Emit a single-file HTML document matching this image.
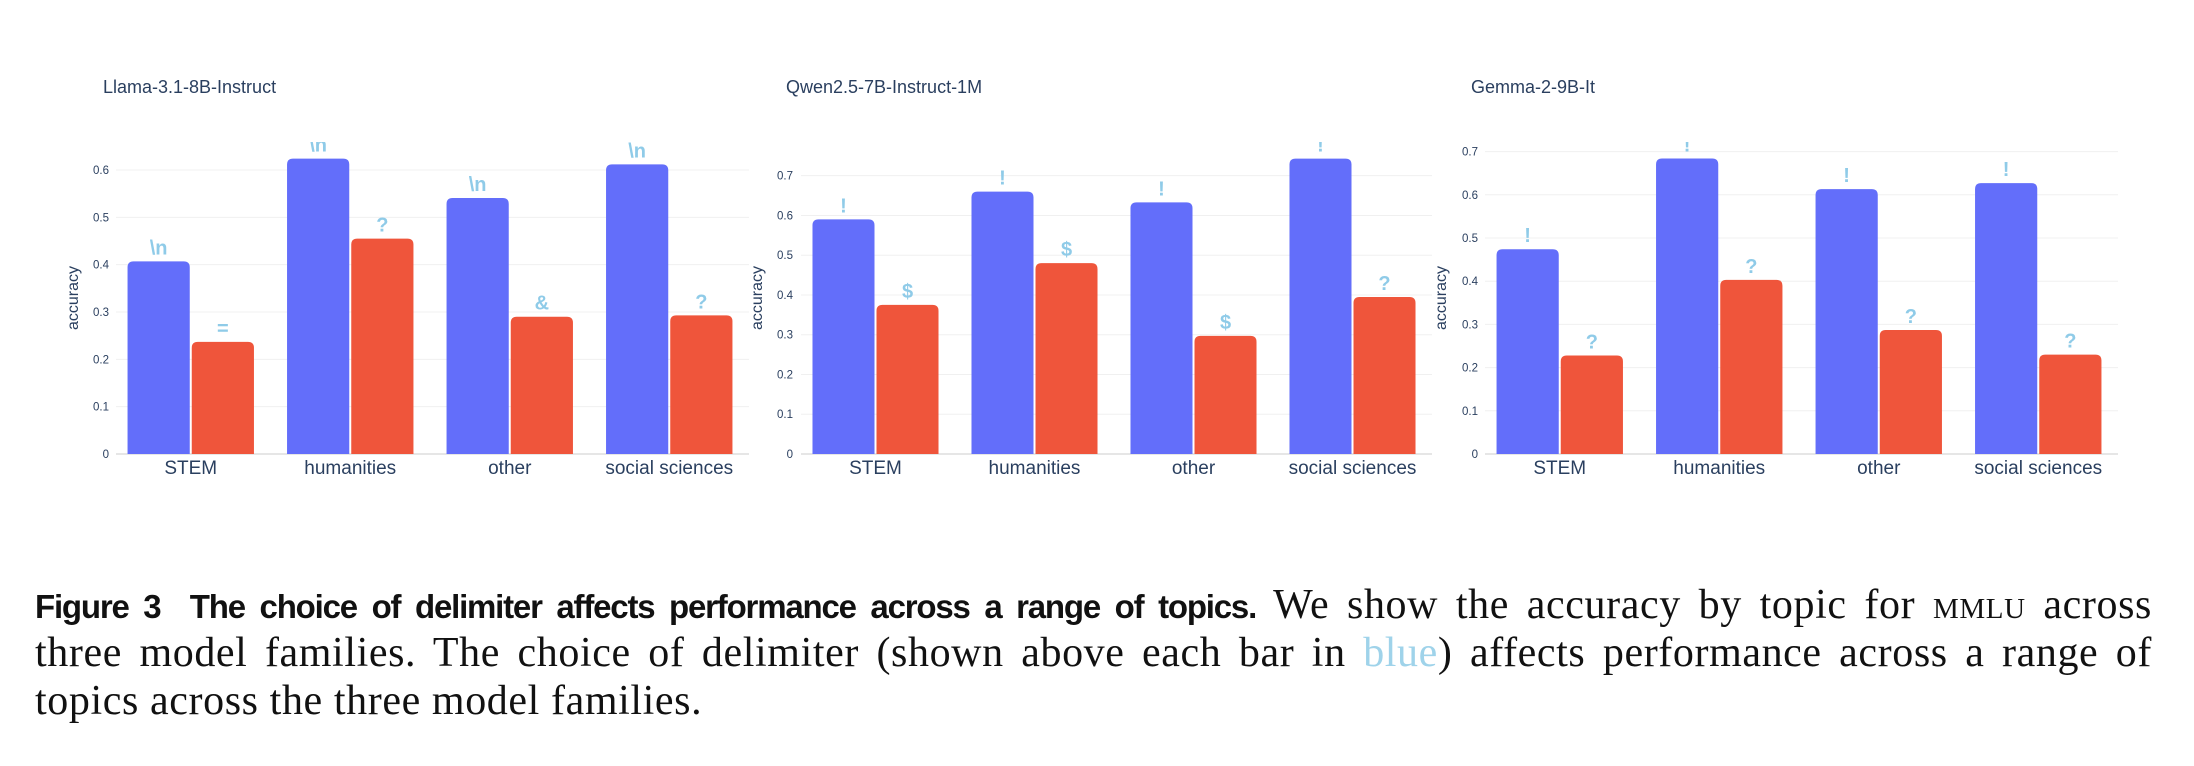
<!DOCTYPE html>
<html><head><meta charset="utf-8">
<style>
html,body{margin:0;padding:0;background:#fff;}
body{width:2194px;height:766px;position:relative;overflow:hidden;}
svg text{font-family:"Liberation Sans",sans-serif;}
.cap{position:absolute;left:35px;width:2117px;font-family:"Liberation Serif",serif;font-size:42px;letter-spacing:0.6px;color:#111;white-space:nowrap;line-height:48px;}
.j{text-align:justify;text-align-last:justify;white-space:normal;}
.b{font-family:"Liberation Sans",sans-serif;font-weight:bold;font-size:33px;letter-spacing:-1.2px;}
.sc{font-variant:small-caps;}
</style></head>
<body>
<svg id="chart" width="2194" height="560" style="position:absolute;left:0;top:0"></svg>
<div class="cap j" style="top:581px"><span class="b">Figure 3&nbsp; The choice of delimiter affects performance across a range of topics.</span> We show the accuracy by topic for <span class="sc">mmlu</span> across</div>
<div class="cap j" style="top:629px">three model families. The choice of delimiter (shown above each bar in <span style="color:#9fd3ea">blue</span>) affects performance across a range of</div>
<div class="cap" style="top:677px">topics across the three model families.</div>
<script>
const categories = ["STEM","humanities","other","social sciences"];
const panelTitles = ["Llama-3.1-8B-Instruct","Qwen2.5-7B-Instruct-1M","Gemma-2-9B-It"];
const llamaBlue = [0.407,0.624,0.541,0.612];
const llamaRed = [0.237,0.455,0.290,0.293];
const llamaBlueLabels = ["\\n","\\n","\\n","\\n"];
const llamaRedLabels = ["=","?","&","?"];
const qwenBlue = [0.590,0.660,0.633,0.743];
const qwenRed = [0.375,0.480,0.297,0.395];
const qwenBlueLabels = ["!","!","!","!"];
const qwenRedLabels = ["$","$","$","?"];
const gemmaBlue = [0.474,0.684,0.613,0.627];
const gemmaRed = [0.228,0.403,0.287,0.230];
const gemmaBlueLabels = ["!","!","!","!"];
const gemmaRedLabels = ["?","?","?","?"];
const llamaTicks = [0,0.1,0.2,0.3,0.4,0.5,0.6];
const qwenTicks = [0,0.1,0.2,0.3,0.4,0.5,0.6,0.7];
const gemmaTicks = [0,0.1,0.2,0.3,0.4,0.5,0.6,0.7];

const NS="http://www.w3.org/2000/svg";
const svg=document.getElementById('chart');
function mk(tag,attrs,parent){const e=document.createElementNS(NS,tag);for(const k in attrs)e.setAttribute(k,attrs[k]);(parent||svg).appendChild(e);return e;}

const layouts=[
 {x0:111,x1:749,pxPer01:47.33,titleX:103,tickX:109,axX:78,key:'llama'},
 {x0:796,x1:1432,pxPer01:39.76,titleX:786,tickX:793,axX:762,key:'qwen'},
 {x0:1480,x1:2118,pxPer01:43.2,titleX:1471,tickX:1478,axX:1446,key:'gemma'}
];
const series=[
 [llamaBlue,llamaRed,llamaBlueLabels,llamaRedLabels,llamaTicks],
 [qwenBlue,qwenRed,qwenBlueLabels,qwenRedLabels,qwenTicks],
 [gemmaBlue,gemmaRed,gemmaBlueLabels,gemmaRedLabels,gemmaTicks]
];
const y0=454, clipTop=142;
const defs=mk('defs',{});
layouts.forEach((L,pi)=>{
  const [blue,red,bl,rl,ticks]=series[pi];
  const g=mk('g',{});
  
  
  const yScale=v=>y0-v*L.pxPer01*10;
  const band=(L.x1-L.x0)/categories.length;
  const xCenter=i=>L.x0+band*(i+0.5);
  const cp=mk('clipPath',{id:'clip'+pi},defs);
  mk('rect',{x:L.x0-20,y:clipTop,width:L.x1-L.x0+40,height:y0-clipTop+2},cp);
  const t=mk('text',{x:L.titleX,y:93,'font-size':18,fill:'#2a3f5f'},g);
  t.textContent=panelTitles[pi];
  
  
  ticks.forEach(v=>{
    const y=yScale(v);
    const ln=mk('line',{x1:L.x0+5,x2:L.x1,y1:y,y2:y,stroke:v===0?'#e6e6e6':'#f0f0f0','stroke-width':v===0?2:1},g);
    
    
    const tl=mk('text',{x:L.tickX,y:y+4,'font-size':11.5,fill:'#2a3f5f','text-anchor':'end'},g);
    tl.textContent=String(v);
    
    
  });
  const at=mk('text',{x:L.axX,y:298,'font-size':16,fill:'#2a3f5f','text-anchor':'middle',transform:`rotate(-90 ${L.axX} 298)`},g);
  at.textContent='accuracy';
  
  
  const bg=mk('g',{'clip-path':`url(#clip${pi})`},g);
  const bw=band*0.39;
  categories.forEach((c,i)=>{
    const cx=xCenter(i);
    [[blue[i],'#636efa',cx-bw-1,bl[i],'blue'],[red[i],'#ef553b',cx+1,rl[i],'red']].forEach(([v,col,x,lab,nm])=>{
      const top=yScale(v), r=6;
      const p=mk('path',{d:`M${x},${y0}V${top+r}Q${x},${top} ${x+r},${top}H${x+bw-r}Q${x+bw},${top} ${x+bw},${top+r}V${y0}Z`,fill:col},bg);
      
      
      const tx=mk('text',{x:x+bw/2,y:top-7,'font-size':20,'font-weight':'bold',fill:'#8fcbe8','text-anchor':'middle'},bg);
      tx.textContent=lab;
      
      
    });
    const cl=mk('text',{x:cx,y:474,'font-size':19,fill:'#2a3f5f','text-anchor':'middle'},g);
    cl.textContent=c;
    
    
  });
});
</script>
</body></html>
